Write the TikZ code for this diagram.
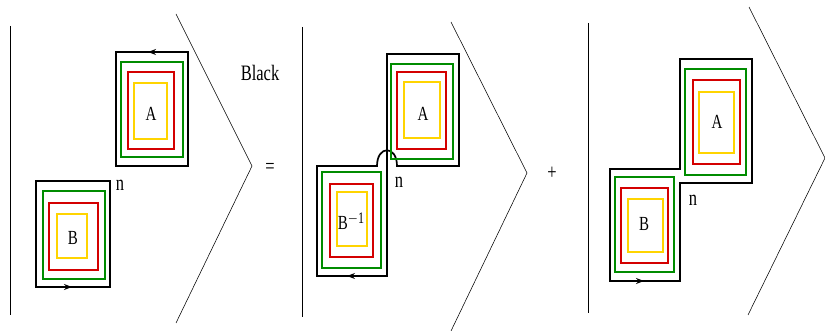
\documentclass[tikz,border=0pt]{standalone}
\usepackage{fontspec}
\setmainfont{Liberation Serif}
\usepackage{graphicx}
\usetikzlibrary{arrows.meta}
\definecolor{gr}{RGB}{0,140,0}
\definecolor{rd}{RGB}{212,0,0}
\definecolor{yl}{RGB}{255,212,0}
\newcommand\narrow[1]{\scalebox{0.75}[1]{#1}}
\begin{document}
\begin{tikzpicture}[x=1pt,y=-1pt,
  loopline/.style={line width=1.7pt,black,line join=miter},
  gbox/.style={draw=gr,line width=1.4pt},
  rbox/.style={draw=rd,line width=1.4pt},
  ybox/.style={draw=yl,line width=1.4pt},
  thinline/.style={line width=0.55pt,black},
  arr/.style={line width=1.7pt,-{Stealth[length=8pt,width=6pt]}},
  lab/.style={inner sep=0pt,font=\fontsize{20}{20}\selectfont},
  big/.style={inner sep=0pt,font=\fontsize{22}{22}\selectfont}]
\useasboundingbox (0,0) rectangle (825,331);
% ---------- panel 1 ----------
\draw[thinline] (10,26) -- (10,315);
\draw[thinline] (176,14) -- (252,166) -- (176,323);
\draw[loopline] (116,52) rectangle (188,166);
\draw[gbox] (121,62) rectangle (183,157);
\draw[rbox] (128,72) rectangle (174,149);
\draw[ybox] (134,83) rectangle (167,139);
\draw[arr] (161,52) -- (148,52);
\node[lab] (a1) at (151,114) {\narrow{A}};
\draw[loopline] (36,181) rectangle (110,287);
\draw[gbox] (43,191) rectangle (105,279);
\draw[rbox] (49,203) rectangle (98,270);
\draw[ybox] (57,214) rectangle (87,258);
\draw[arr] (59,287) -- (72,287);
\node[lab] (b1) at (73,238) {\narrow{B}};
\node[big] (n1) at (120,185) {\narrow{n}};
\node[big] (black) at (260,73) {\narrow{Black}};
\node[big] (eq) at (270,168) {\narrow{=}};
% ---------- panel 2 ----------
\draw[thinline] (302,27) -- (302,317);
\draw[thinline] (451,22) -- (527,173) -- (451,331);
\draw[loopline] (387,54) -- (459,54) -- (459,166) -- (397,166)
  .. controls (397,145) and (377,145) .. (377,166)
  -- (317,166) -- (317,276) -- (387,276) -- cycle;
\draw[gbox] (391,64) rectangle (453,159);
\draw[rbox] (397,72) rectangle (446,149);
\draw[ybox] (404,82) rectangle (440,138);
\node[lab] (a2) at (423,114) {\narrow{A}};
\draw[gbox] (322,172) rectangle (381,268);
\draw[rbox] (330,184) rectangle (373,257);
\draw[ybox] (337,192) rectangle (367,246);
\draw[arr] (360,276) -- (347,276);
\node[lab] (b2) at (351,221) {\narrow{B\raisebox{6pt}{\fontsize{16}{16}\selectfont$-$1}}};
\node[big] (n2) at (399,182) {\narrow{n}};
\node[big] (plus) at (552,173) {\narrow{+}};
% ---------- panel 3 ----------
\draw[thinline] (588,23) -- (588,313);
\draw[thinline] (749,7) -- (825,158) -- (748,315);
\draw[loopline] (680,59) -- (752,59) -- (752,183) -- (680,183) -- (680,281)
  -- (610,281) -- (610,169) -- (680,169) -- cycle;
\draw[gbox] (685,69) rectangle (746,175);
\draw[rbox] (693,80) rectangle (740,164);
\draw[ybox] (699,92) rectangle (734,153);
\node[lab] (a3) at (717,122) {\narrow{A}};
\draw[gbox] (615,177) rectangle (674,272);
\draw[rbox] (621,188) rectangle (668,263);
\draw[ybox] (628,199) rectangle (663,252);
\draw[arr] (631,281) -- (644,281);
\node[lab] (b3) at (644,224) {\narrow{B}};
\node[big] (n3) at (693,200) {\narrow{n}};
\end{tikzpicture}
\end{document}
